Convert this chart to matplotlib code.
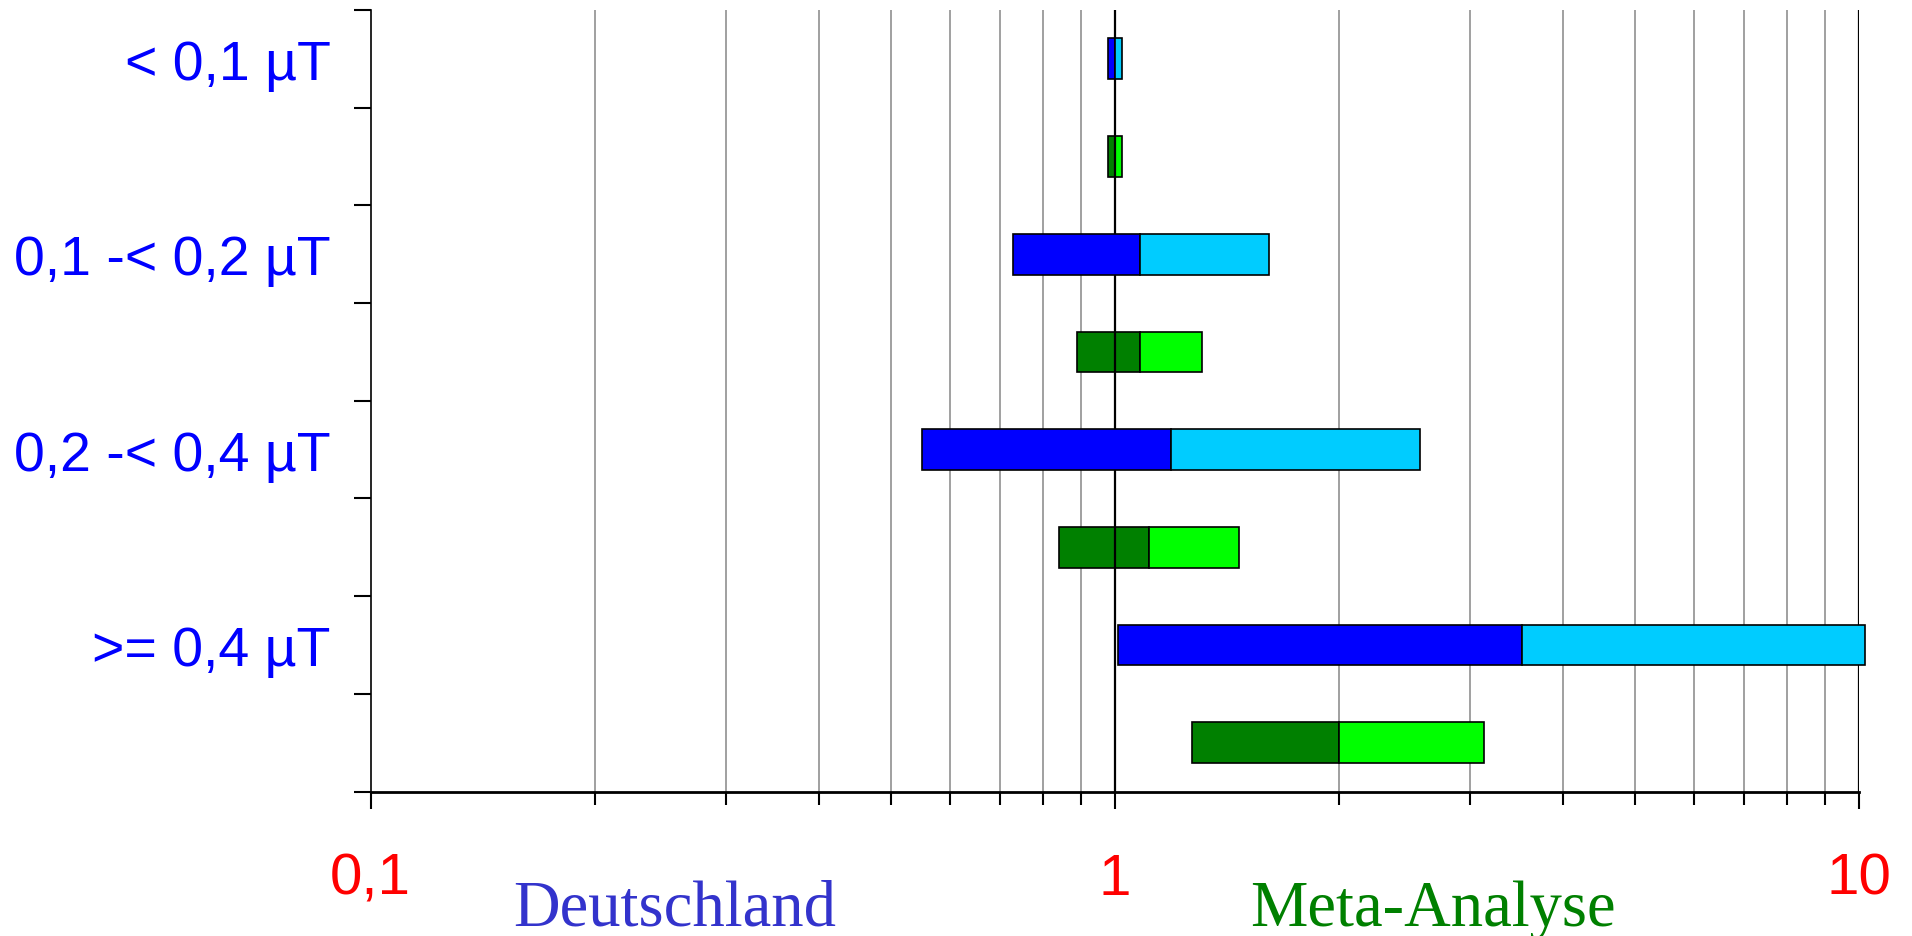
import matplotlib
matplotlib.use("Agg")
import matplotlib.pyplot as plt
from matplotlib.ticker import FixedLocator, NullFormatter
import numpy as np

# Exposure categories (magnetic field strength)
categories = ["< 0,1 µT", "0,1 -< 0,2 µT", "0,2 -< 0,4 µT", ">= 0,4 µT"]

# German study: odds ratio with 95% confidence interval
de_or = [1.00, 1.08, 1.19, 3.52]
de_lo = [0.978, 0.73, 0.55, 1.01]
de_hi = [1.022, 1.61, 2.57, 10.2]

# Pooled meta-analysis: odds ratio with 95% confidence interval
meta_or = [1.00, 1.08, 1.11, 2.00]
meta_lo = [0.978, 0.89, 0.84, 1.27]
meta_hi = [1.022, 1.31, 1.47, 3.13]

x_ticks = [0.1, 1, 10]
x_tick_labels = ["0,1", "1", "10"]

DPI = 100
fig = plt.figure(figsize=(19.12, 9.37), dpi=DPI)
ax = fig.add_axes([0.1939, 0.1542, 0.9723 - 0.1939, 0.9883 - 0.1542])

ax.set_xscale("log")
ax.set_xlim(0.1, 10)
n_rows = 2 * len(categories)
ax.set_ylim(n_rows - 0.5, -0.5)

bar_h = 0.416
edge = dict(edgecolor="black", linewidth=1.2)

y_de = np.arange(len(categories)) * 2
y_meta = y_de + 1

# Meta-analysis rows (drawn beneath the reference line)
ax.barh(y_meta, np.subtract(meta_or, meta_lo), left=meta_lo, height=bar_h,
        color="#008000", zorder=2, **edge)
ax.barh(y_meta, np.subtract(meta_hi, meta_or), left=meta_or, height=bar_h,
        color="#00FF00", zorder=2, **edge)

# Reference lines at OR = 1 and at the right border
ax.axvline(1, color="black", linewidth=1.6, zorder=2.5)
ax.axvline(10, color="black", linewidth=1.6, zorder=2.5)

# German study rows
ax.barh(y_de, np.subtract(de_or, de_lo), left=de_lo, height=bar_h,
        color="#0000FF", zorder=3, clip_on=False, **edge)
ax.barh(y_de, np.subtract(de_hi, de_or), left=de_or, height=bar_h,
        color="#00CCFF", zorder=3, clip_on=False, **edge)

# x axis: decades labelled, intermediate values as grid lines
ax.xaxis.set_major_locator(FixedLocator(x_ticks))
ax.set_xticklabels(x_tick_labels)
minor = [m * d for d in (0.1, 1) for m in range(2, 10)]
ax.xaxis.set_minor_locator(FixedLocator(minor))
ax.xaxis.set_minor_formatter(NullFormatter())
ax.grid(True, which="minor", axis="x", color="#999999", linewidth=1.3, zorder=1)
ax.set_axisbelow(True)
ax.tick_params(axis="x", which="major", direction="out", length=12.5, width=1.5,
               pad=31, labelsize=42, labelcolor="#FF0000", color="black")
ax.tick_params(axis="x", which="minor", direction="out", length=9.5, width=1.5,
               color="black")
for lab in ax.get_xticklabels():
    lab.set_fontfamily("Liberation Sans")

# y axis: ticks at row boundaries, category names centred on German rows
ax.yaxis.set_major_locator(FixedLocator(np.arange(n_rows + 1) - 0.5))
ax.yaxis.set_major_formatter(NullFormatter())
ax.yaxis.set_minor_locator(FixedLocator(y_de))
ax.set_yticklabels(categories, minor=True)
ax.tick_params(axis="y", which="major", direction="out", length=12.5, width=1.5,
               color="black")
ax.tick_params(axis="y", which="minor", length=0, pad=29, labelsize=40,
               labelcolor="#0000FF")
for lab in ax.get_yticklabels(minor=True):
    lab.set_fontfamily("Liberation Sans")

for side in ("top", "right"):
    ax.spines[side].set_visible(False)
ax.spines["left"].set_linewidth(1.2)
ax.spines["bottom"].set_linewidth(2.0)

# Captions under the axis
fig.text(674.5 / 1912, 1 - 926 / 937, "Deutschland", color="#3333CC",
         fontsize=46.5, family="Liberation Serif", ha="center", va="baseline")
fig.text(1432.5 / 1912, 1 - 926 / 937, "Meta-Analyse", color="#008000",
         fontsize=46.5, family="Liberation Serif", ha="center", va="baseline")

fig.savefig("out.png", dpi=DPI, facecolor="white")
